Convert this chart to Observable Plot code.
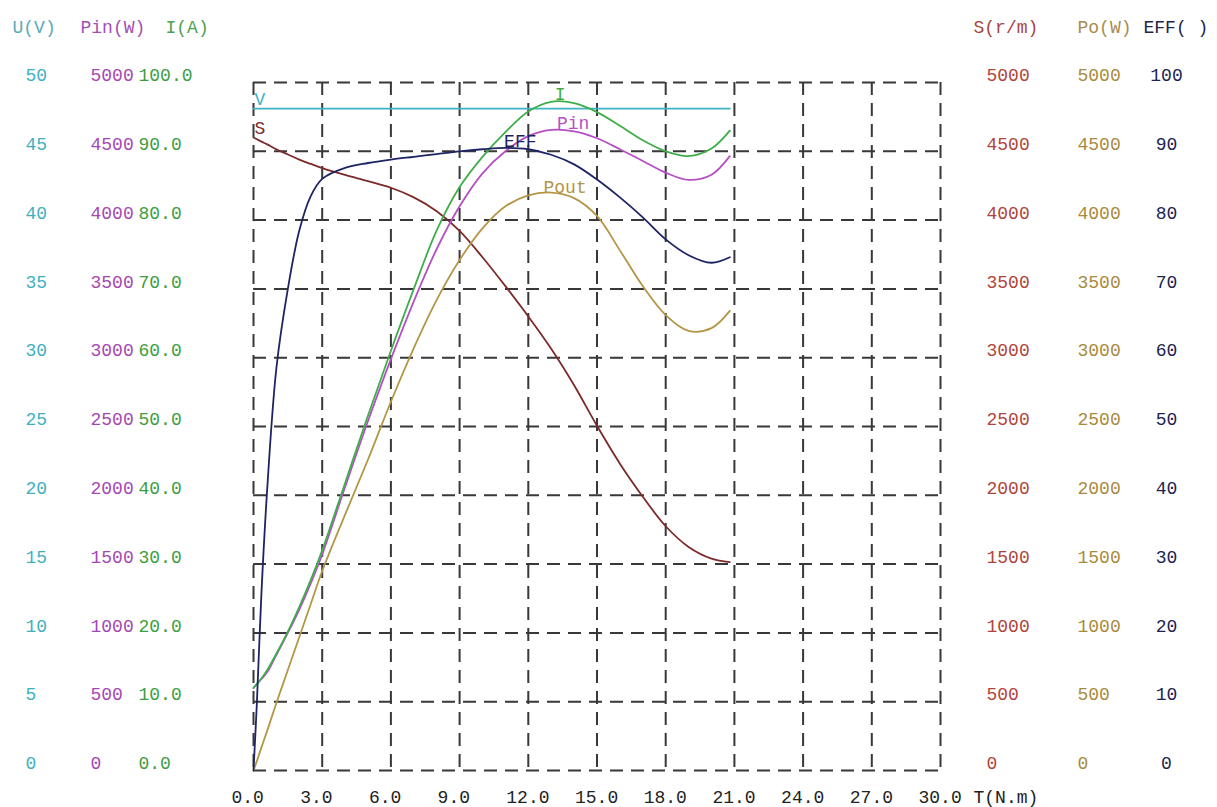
<!DOCTYPE html>
<html><head><meta charset="utf-8">
<script src="https://cdn.jsdelivr.net/npm/d3@7"></script>
<script src="https://cdn.jsdelivr.net/npm/@observablehq/plot@0.6"></script>
<style>body{margin:0;background:#fff;} svg{display:block;}</style>
</head><body><div id="chart"></div>
<script>
// ---- data ----
const torque        = [0, 0.15, 0.35, 0.6, 1, 1.5, 2, 2.5, 3, 4, 5, 6, 7, 8, 9, 10, 11, 12, 13, 14, 15, 16, 17, 18, 19, 20, 20.8];
const voltage       = [48.1,48.1,48.1,48.1,48.1,48.1,48.1,48.1,48.1,48.1,48.1,48.1,48.1,48.1,48.1,48.1,48.1,48.1,48.1,48.1,48.1,48.1,48.1,48.1,48.1,48.1,48.1];
const speed         = [4600,4588,4570,4550,4515,4477,4440,4408,4378,4328,4283,4235,4165,4065,3922,3730,3520,3300,3065,2800,2505,2230,1990,1775,1625,1540,1515];
const inputPower    = [600,630,665,715,840,1000,1170,1360,1570,2060,2540,2990,3410,3790,4100,4340,4500,4610,4655,4645,4595,4515,4430,4345,4292,4330,4465];
const current       = [12,12.6,13.4,14.6,17,20.2,23.8,27.7,32,41.8,51.6,61,70,78.5,84.8,89.2,92.8,95.8,97.2,97,95.7,93.7,91.6,90,89.3,90.4,93];
const outputPower   = [0,70,170,290,490,730,970,1210,1450,1860,2260,2680,3070,3420,3710,3940,4100,4180,4200,4160,4030,3780,3520,3310,3195,3215,3340];
const efficiency    = [0,10,26,41,58.5,70,78.5,83.5,86,87.6,88.3,88.8,89.2,89.6,90,90.3,90.5,90.3,89.5,88.1,85.9,83.3,80.4,77.2,74.9,73.8,74.6];

const xTicks   = [0,3,6,9,12,15,18,21,24,27,30];
const gridY    = [0,10,20,30,40,50,60,70,80,90,100];
const uTicks   = [0,5,10,15,20,25,30,35,40,45,50];
const pinTicks = [0,500,1000,1500,2000,2500,3000,3500,4000,4500,5000];
const iTicks   = [0,10,20,30,40,50,60,70,80,90,100];
const sTicks   = [0,500,1000,1500,2000,2500,3000,3500,4000,4500,5000];
const poTicks  = [0,500,1000,1500,2000,2500,3000,3500,4000,4500,5000];
const effTicks = [0,10,20,30,40,50,60,70,80,90,100];

const rows = torque.map((t, k) => ({t, u: voltage[k], s: speed[k], pin: inputPower[k], i: current[k], po: outputPower[k], eff: efficiency[k]}));

const FONT = "Liberation Mono";
const FS = 18;
const series = [
  {key:"u",   max:50,   color:"#3fb3c6", name:"V",    at:0,  anchor:"start",  dx:1,  dy:-9},
  {key:"s",   max:5000, color:"#7c2b2b", name:"S",    at:0,  anchor:"start",  dx:1,  dy:-9},
  {key:"po",  max:5000, color:"#b39646", name:"Pout", at:14, anchor:"middle", dx:-9, dy:-11},
  {key:"pin", max:5000, color:"#b64fc4", name:"Pin",  at:14, anchor:"middle", dx:-1, dy:-8},
  {key:"i",   max:100,  color:"#3fae4a", name:"I",    at:13, anchor:"middle", dx:9,  dy:-8},
  {key:"eff", max:100,  color:"#1e2463", name:"EFF",  at:12, anchor:"middle", dx:-8, dy:-8}
];

const marks = [];
// grid (dashed, including frame)
marks.push(Plot.ruleX(xTicks, {x: d => d, stroke:"#383838", strokeWidth:2, strokeDasharray:"13,8"}));
marks.push(Plot.ruleY(gridY, {y: d => d, stroke:"#383838", strokeWidth:2, strokeDasharray:"13,8"}));

// curves
for (const s of series) {
  marks.push(Plot.line(rows, {x:"t", y: d => d[s.key] / s.max * 100, stroke: s.color, strokeWidth:1.8, curve:"catmull-rom"}));
}
// curve labels
for (const s of series) {
  const r = rows.find(d => d.t === s.at);
  marks.push(Plot.text([r], {x:"t", y: d => d[s.key] / s.max * 100, text: () => s.name, fill: s.color,
    textAnchor: s.anchor, dx: s.dx, dy: s.dy, fontSize: FS, fontFamily: FONT}));
}

// tick label columns
const axisText = (data, scaleMax, fmt, fill, anchorSide, dx, textAnchor) =>
  Plot.text(data, {y: d => d / scaleMax * 100, text: fmt, frameAnchor: anchorSide, dx, dy:-7,
    textAnchor, fill, fontSize: FS, fontFamily: FONT, lineAnchor:"middle"});
marks.push(axisText(uTicks, 50, d => String(d), "#3fb0c0", "left", -228, "start"));
marks.push(axisText(pinTicks, 5000, d => String(d), "#a447b4", "left", -163, "start"));
marks.push(axisText(iTicks, 100, d => d.toFixed(1), "#3d9d3f", "left", -115, "start"));
marks.push(axisText(sTicks, 5000, d => String(d), "#b0443a", "right", 46, "start"));
marks.push(axisText(poTicks, 5000, d => String(d), "#a88a3c", "right", 137, "start"));
marks.push(axisText(effTicks, 100, d => String(d), "#1c2352", "right", 226, "middle"));

// headers
const header = (label, anchor, dx, fill) =>
  Plot.text([label], {text: d => d, frameAnchor: anchor, dx, dy:-55, textAnchor:"start", fill, fontSize: FS, fontFamily: FONT, lineAnchor:"middle"});
marks.push(header("U(V)", "top-left", -241, "#5aaab6"));
marks.push(header("Pin(W)", "top-left", -173, "#a24fb2"));
marks.push(header("I(A)", "top-left", -88, "#4f9f50"));
marks.push(header("S(r/m)", "top-right", 33, "#a5453f"));
marks.push(header("Po(W)", "top-right", 137, "#a88c50"));
marks.push(header("EFF( )", "top-right", 203, "#22264a"));

// x axis labels
marks.push(Plot.text(xTicks, {x: d => d, frameAnchor:"bottom", text: d => d.toFixed(1), textAnchor:"start", dx:-22, dy:27,
  fill:"#222", fontSize: FS, fontFamily: FONT, lineAnchor:"middle"}));
marks.push(Plot.text(["T(N.m)"], {text: d => d, frameAnchor:"bottom-right", dx:33, dy:27, textAnchor:"start",
  fill:"#222", fontSize: FS, fontFamily: FONT, lineAnchor:"middle"}));

const chart = Plot.plot({
  width: 1217, height: 807,
  marginLeft: 253, marginRight: 277, marginTop: 82, marginBottom: 37,
  x: {domain:[0,30], axis:null},
  y: {domain:[0,100], axis:null},
  style: {background:"#fff", fontFamily: FONT},
  marks
});
document.getElementById("chart").appendChild(chart);
</script>
</body></html>
